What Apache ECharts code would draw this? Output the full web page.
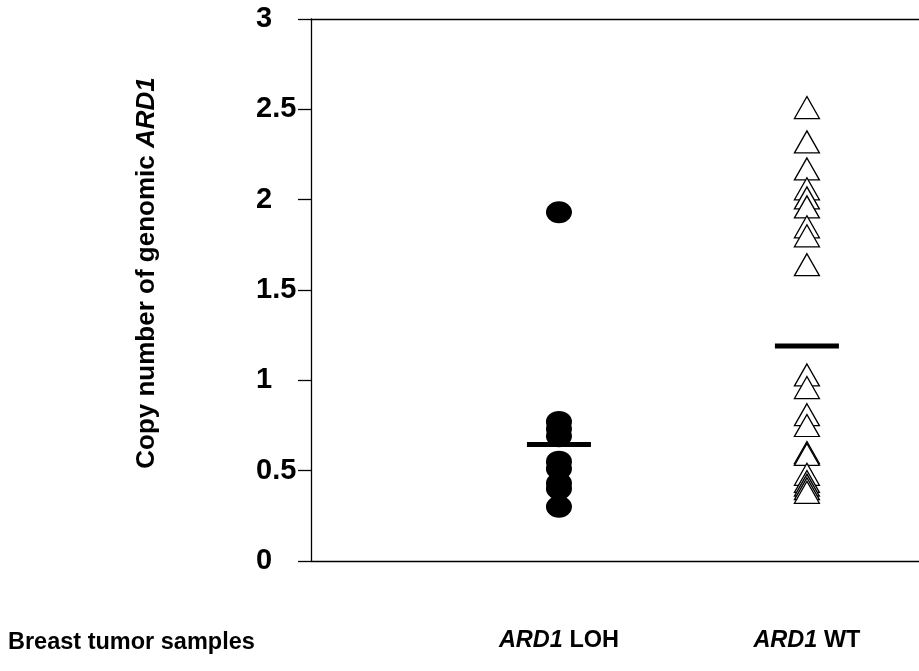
<!DOCTYPE html>
<html>
<head>
<meta charset="utf-8">
<script src="https://cdn.jsdelivr.net/npm/echarts@6/dist/echarts.min.js"></script>
<style>
  html, body { margin: 0; padding: 0; background: #fff; }
  #chart { width: 919px; height: 671px; }
</style>
</head>
<body>
<div id="chart"></div>
<script>
// groups sit at x = 1 and x = 2
const groups = ['ARD1 LOH', 'ARD1 WT'];
const yTicks = [0, 0.5, 1, 1.5, 2, 2.5, 3];

// copy number
const lohValues = [1.93, 0.77, 0.73, 0.69, 0.55, 0.51, 0.43, 0.40, 0.30];
const wtValues = [2.51, 2.32, 2.17, 2.06, 2.01, 1.96, 1.85, 1.80, 1.64,
  1.03, 0.96, 0.81, 0.75, 0.60, 0.59, 0.48, 0.44, 0.42, 0.40, 0.38];
// horizontal bar for each group
const groupMeans = [0.645, 1.19];

const font = 'Arial, "Liberation Sans", sans-serif';
const chart = echarts.init(document.getElementById('chart'));

const ellipse = 'path://M0 50 A50 50 0 1 1 100 50 A50 50 0 1 1 0 50 Z';
const xMax = 2.452; // plot is cut off at the right edge

const option = {
  animation: false,
  backgroundColor: '#fff',
  title: {
    text: 'Breast tumor samples',
    left: 3,
    top: 626,
    textStyle: { fontFamily: font, fontWeight: 'bold', fontSize: 23.5, color: '#000' }
  },
  grid: {
    left: 311,
    top: 19,
    bottom: 671 - 561,
    right: 0
  },
  xAxis: [
    {
      type: 'value',
      min: 0,
      max: xMax,
      interval: 1,
      axisLine: { show: true, lineStyle: { color: '#000', width: 1.3 } },
      axisTick: { show: false },
      splitLine: { show: false },
      axisLabel: {
        margin: 68,
        showMaxLabel: false,
        fontFamily: font,
        fontWeight: 'bold',
        fontSize: 23.5,
        color: '#000',
        formatter: function (v) {
          const g = groups[v - 1];
          if (!g) return '';
          const parts = g.split(' ');
          return '{i|' + parts[0] + '} ' + parts[1];
        },
        rich: {
          i: { fontFamily: font, fontWeight: 'bold', fontStyle: 'italic', fontSize: 23.5, color: '#000' }
        }
      }
    },
    {
      type: 'value',
      position: 'top',
      min: 0,
      max: xMax,
      axisLine: { show: true, onZero: false, lineStyle: { color: '#000', width: 1.3 } },
      axisTick: { show: false },
      axisLabel: { show: false },
      splitLine: { show: false }
    }
  ],
  yAxis: {
    type: 'value',
    min: yTicks[0],
    max: yTicks[yTicks.length - 1],
    interval: 0.5,
    axisLine: { show: true, lineStyle: { color: '#000', width: 1.3 } },
    axisTick: { show: true, length: 13, lineStyle: { color: '#000', width: 1.3 } },
    splitLine: { show: false },
    axisLabel: {
      margin: 55,
      align: 'left',
      padding: [7, 0, 0, 0],
      fontFamily: font,
      fontWeight: 'bold',
      fontSize: 29,
      color: '#000'
    },
    name: 'Copy number of genomic {i|ARD1}',
    nameLocation: 'middle',
    nameGap: 151,
    nameTextStyle: {
      fontFamily: font,
      fontWeight: 'bold',
      fontSize: 26,
      color: '#000',
      padding: [0, 0, 0, 34],
      rich: {
        i: { fontFamily: font, fontWeight: 'bold', fontStyle: 'italic', fontSize: 26, color: '#000' }
      }
    }
  },
  series: [
    {
      name: 'ARD1 LOH',
      type: 'scatter',
      symbol: ellipse,
      symbolSize: [26, 22],
      itemStyle: { color: '#000', opacity: 1 },
      data: lohValues.map(v => [1, v]),
      z: 2
    },
    {
      name: 'ARD1 WT',
      type: 'scatter',
      symbol: 'triangle',
      symbolSize: [25, 22],
      itemStyle: { color: '#fff', borderColor: '#000', borderWidth: 1.3, opacity: 1 },
      data: wtValues.map(v => [2, v]),
      z: 2
    },
    {
      name: 'mean',
      type: 'scatter',
      symbol: 'rect',
      symbolSize: [64, 5],
      itemStyle: { color: '#000', opacity: 1 },
      data: groupMeans.map((v, i) => [i + 1, v]),
      z: 3
    }
  ]
};

chart.setOption(option);
</script>
</body>
</html>
